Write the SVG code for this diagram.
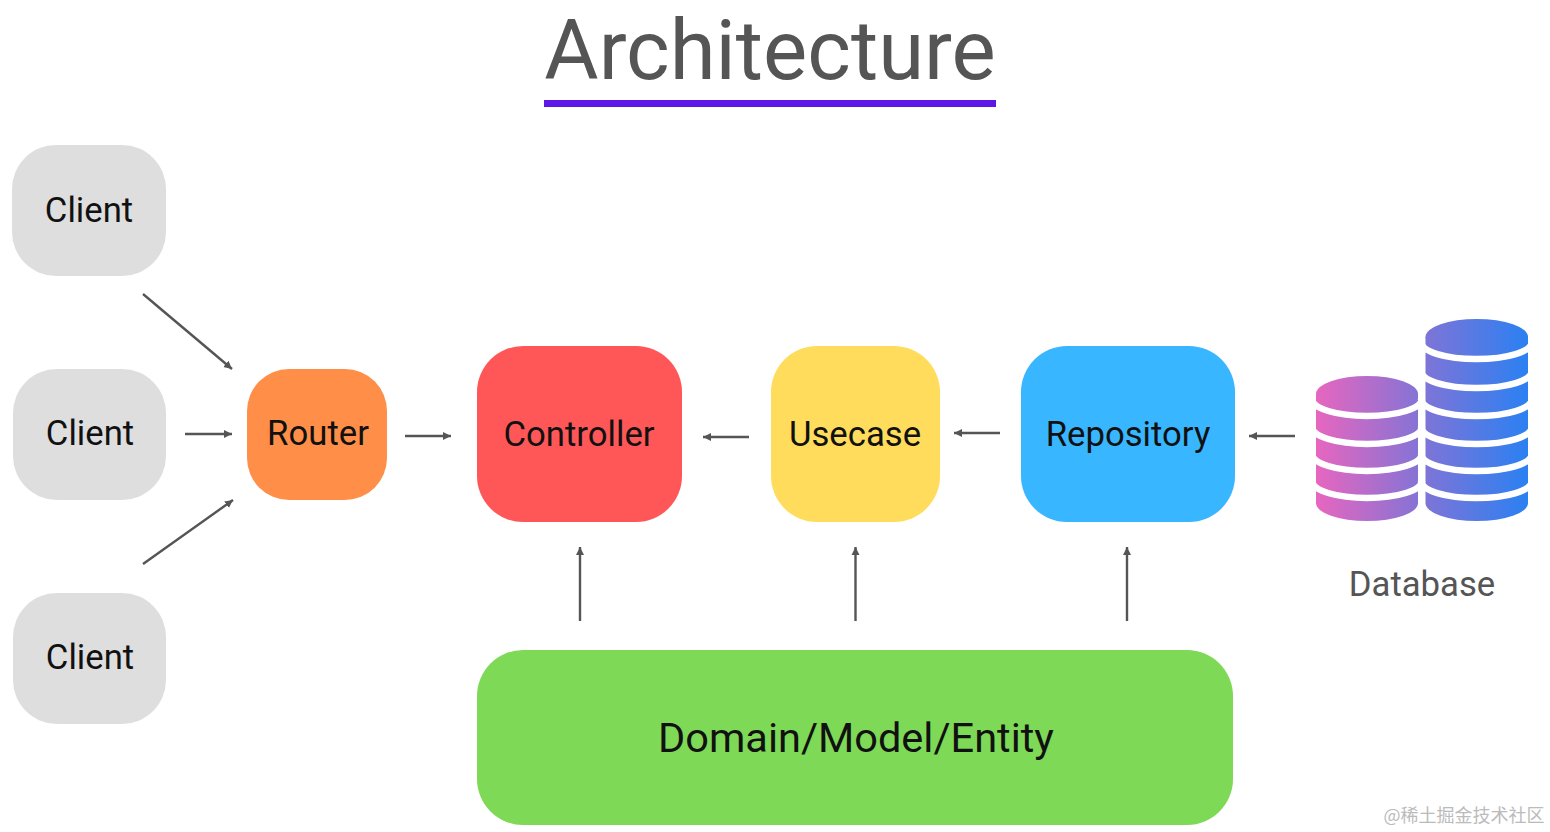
<svg xmlns="http://www.w3.org/2000/svg" width="1550" height="832" viewBox="0 0 1550 832">
<style>
text{font-family:Roboto,"Liberation Sans",sans-serif;text-anchor:middle}
.l{font-size:34.700px;fill:#111}
.c{fill:#dedede}
.a{stroke:#555;stroke-width:2.400;fill:none;marker-end:url(#m)}
.w{stroke:#fff;stroke-width:6.500;fill:none}
.db{fill:url(#g)}
</style>
<defs>
<marker id="m" markerUnits="userSpaceOnUse" markerWidth="10" markerHeight="10" refX="8" refY="5" orient="auto"><path d="M0,1 L8,5 L0,9 Z" fill="#555"/></marker>
<linearGradient id="g" gradientUnits="userSpaceOnUse" x1="1316" y1="0" x2="1528" y2="0"><stop offset="0" stop-color="#e766bf"/><stop offset="0.5" stop-color="#8174d6"/><stop offset="1" stop-color="#2b80f2"/></linearGradient>
</defs>
<rect width="1550" height="832" fill="#fff"/>
<g id="title"><text x="770" y="79" font-size="83.300" style="fill:#555">Architecture</text><rect x="544" y="100" width="452" height="7" fill="#5f17e8"/></g>
<g id="client1"><rect class="c" x="12" y="145" width="154" height="131" rx="44"/><text class="l" x="89" y="222">Client</text></g>
<g id="client2"><rect class="c" x="13" y="369" width="153" height="131" rx="44"/><text class="l" x="90" y="445">Client</text></g>
<g id="client3"><rect class="c" x="13" y="593" width="153" height="131" rx="44"/><text class="l" x="90" y="669">Client</text></g>
<g id="router"><rect x="247" y="369" width="140" height="131" rx="42" fill="#ff8f48"/><text class="l" x="318" y="445">Router</text></g>
<g id="controller"><rect x="477" y="346" width="205" height="176" rx="46" fill="#ff5757"/><text class="l" x="579" y="446">Controller</text></g>
<g id="usecase"><rect x="771" y="346" width="169" height="176" rx="46" fill="#ffdc5c"/><text class="l" x="855" y="446">Usecase</text></g>
<g id="repository"><rect x="1021" y="346" width="214" height="176" rx="46" fill="#38b6ff"/><text class="l" x="1128" y="446">Repository</text></g>
<g id="domain"><rect x="477" y="650" width="756" height="175" rx="46" fill="#7ed957"/><text x="856" y="752" font-size="41.500" fill="#111">Domain/Model/Entity</text></g>
<g id="database">
<path class="db" d="M1316,394 H1418 V503 A51,18 0 0 1 1316,503 Z"/>
<path class="db" d="M1425.500,337 H1528 V503 A51.250,18 0 0 1 1425.500,503 Z"/>
<g class="w">
<path d="M1312,399 A55,17 0 0 0 1422,399"/><path d="M1312,427 A55,17 0 0 0 1422,427"/><path d="M1312,454 A55,17 0 0 0 1422,454"/><path d="M1312,481 A55,17 0 0 0 1422,481"/>
<path d="M1421,342 A55.500,17 0 0 0 1532,342"/><path d="M1421,371 A55.500,17 0 0 0 1532,371"/><path d="M1421,399 A55.500,17 0 0 0 1532,399"/><path d="M1421,427 A55.500,17 0 0 0 1532,427"/><path d="M1421,454 A55.500,17 0 0 0 1532,454"/><path d="M1421,481 A55.500,17 0 0 0 1532,481"/>
</g>
<ellipse class="db" cx="1367" cy="394" rx="51" ry="18"/>
<ellipse class="db" cx="1476.750" cy="337" rx="51.250" ry="18"/>
<text x="1422" y="596" font-size="34.700" style="fill:#555">Database</text>
</g>
<g id="connectors">
<path class="a" d="M143,294 L232,369"/>
<path class="a" d="M185,434 H232"/>
<path class="a" d="M143,564 L233,500"/>
<path class="a" d="M405,436 H451"/>
<path class="a" d="M749,437 H703"/>
<path class="a" d="M1000,433 H954"/>
<path class="a" d="M1295,436 H1249"/>
<path class="a" d="M580,621 V547"/>
<path class="a" d="M855.500,621 V547"/>
<path class="a" d="M1127,621 V547"/>
</g>
<text x="1464" y="822" font-size="18" style="font-family:'Noto Sans CJK SC',sans-serif;fill:#bbb">@稀土掘金技术社区</text>
</svg>
